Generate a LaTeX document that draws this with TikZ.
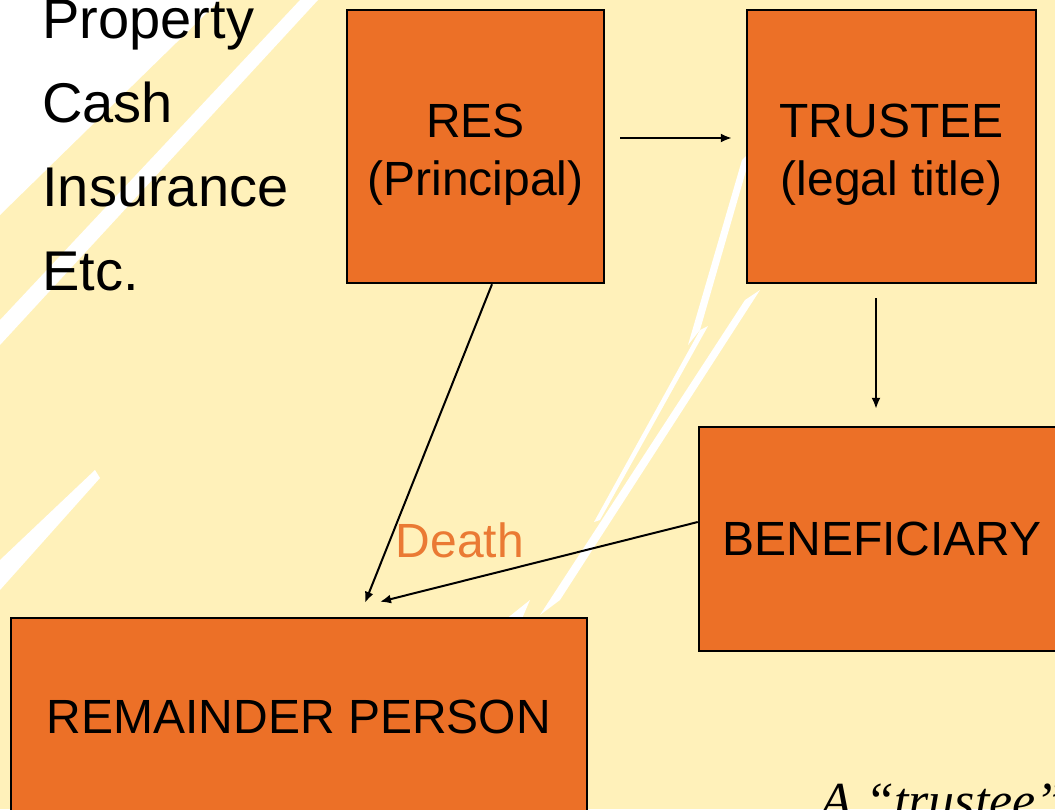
\documentclass[tikz,border=0pt]{standalone}
\usepackage{fontspec}
\setmainfont{Liberation Sans}
\newfontfamily\noteserif{Liberation Serif}
\usetikzlibrary{arrows.meta}
\definecolor{boxorange}{RGB}{236,112,39}
\definecolor{deathorange}{RGB}{234,122,52}
\definecolor{paper}{RGB}{255,241,186}
\newcommand{\topgap}{\rule{0pt}{25pt}}
\tikzstyle{party} = [rectangle, draw=black, line width=1.2pt, fill=boxorange, align=center, font=\fontsize{24}{29}\selectfont]
\tikzstyle{asset} = [anchor=base west, inner sep=0pt, font=\fontsize{28}{34}\selectfont]
\tikzstyle{arrow} = [line width=1pt, -{Latex[length=5.5pt,width=4.5pt]}]
\tikzstyle{streak} = [fill=white]

\begin{document}
\begin{tikzpicture}[x=0.5pt, y=-0.5pt]
\useasboundingbox (0,0) rectangle (1055,809);
\clip (0,0) rectangle (1055,809);
\fill[paper] (0,0) rectangle (1055,809);
% white streaks of the background
\fill[streak] (0,0) -- (220,0) -- (0,215) -- cycle;
\fill[streak] (300,0) -- (318,0) -- (0,345) -- (0,320) -- cycle;
\fill[streak] (0,560) -- (95,470) -- (100,478) -- (0,590) -- cycle;
\fill[streak] (745,300) -- (760,290) -- (560,600) -- (540,615) -- cycle;
\fill[streak] (700,330) -- (708,326) -- (600,520) -- (594,522) -- cycle;
\fill[streak] (742,160) -- (752,150) -- (700,330) -- (688,345) -- cycle;
\fill[streak] (505,620) -- (530,600) -- (440,809) -- (420,809) -- cycle;

\node (res) [party, minimum width=128.5pt, minimum height=136.5pt] at (475.5,146.5) {\topgap RES\\(Principal)};
\node (trustee) [party, minimum width=144.5pt, minimum height=136.5pt] at (891.5,146.5) {\topgap TRUSTEE\\(legal title)};
\node (beneficiary) [party, minimum width=183pt, minimum height=112pt] at (882,539) {BENEFICIARY};
\node (remainder) [party, minimum width=288pt, minimum height=99pt] at (299,717) {REMAINDER PERSON};

\foreach \word [count=\i] in {Property, Cash, Insurance, Etc.}
  \node (asset\i) [asset] at (42,{38+84*(\i-1)}) {\word};

\node (death) [font=\fontsize{24}{29}\selectfont, text=deathorange] at (460,540) {Death};
\node (note) [anchor=base west, inner sep=0pt, font=\noteserif\itshape\fontsize{26}{30}\selectfont] at (820,818) {A “trustee”};

\draw[arrow, shorten <=7.5pt, shorten >=7pt] ([yshift=4.25pt]res.east) -- ([yshift=4.25pt]trustee.west);
\draw[arrow, shorten <=7pt, shorten >=8.5pt] ([xshift=-7.75pt]trustee.south) -- ([xshift=-7.75pt]trustee.south |- beneficiary.north);
\draw[arrow] ([xshift=8.25pt]res.south) -- ([xshift=33pt,yshift=7pt]remainder.north);
\draw[arrow] ([yshift=8.5pt]beneficiary.west) -- ([xshift=40.5pt,yshift=7.5pt]remainder.north);
\end{tikzpicture}
\end{document}
